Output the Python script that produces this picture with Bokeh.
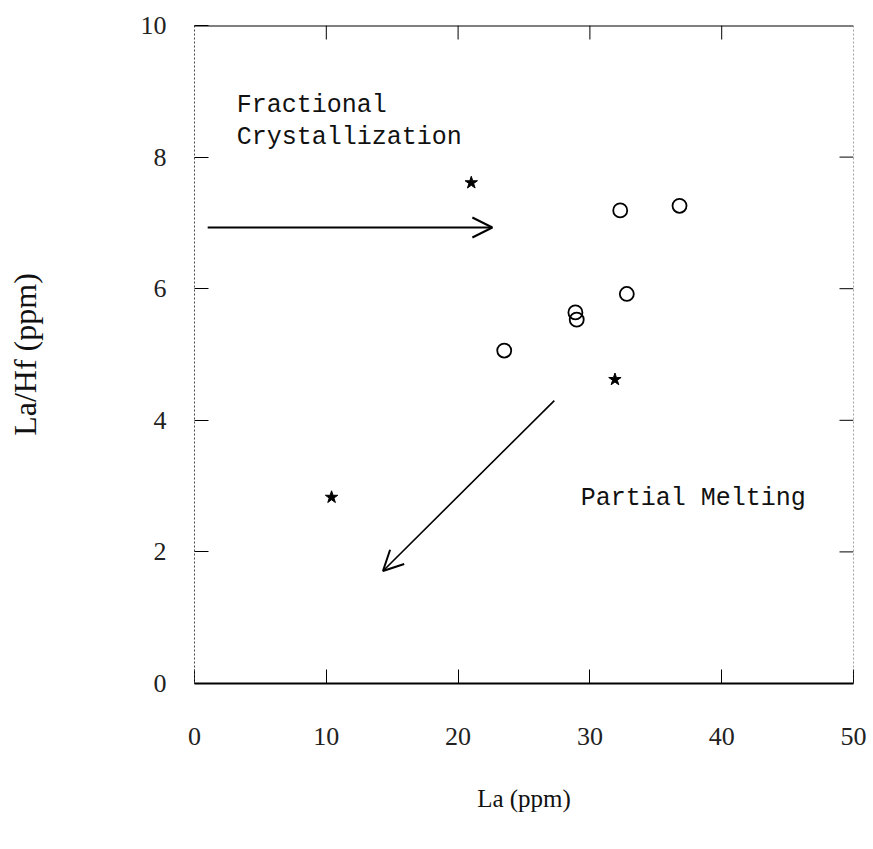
from bokeh.plotting import figure
from bokeh.models import Arrow, OpenHead, LinearAxis, FixedTicker, Range1d, Span
from bokeh.core.properties import value
from bokeh.embed import file_html
from bokeh.resources import INLINE

# ---- data ----
circle_la = [32.3, 36.8, 32.8, 28.9, 29.0, 23.5]
circle_ratio = [7.19, 7.26, 5.92, 5.64, 5.53, 5.06]
star_la = [21.0, 31.9, 10.4]
star_ratio = [7.61, 4.62, 2.83]

x_ticks = [0, 10, 20, 30, 40, 50]
y_ticks = [0, 2, 4, 6, 8, 10]
x_min, x_max = 0, 50
y_min, y_max = 0, 10

fc_arrow_start = (1.0, 6.93)
fc_arrow_end = (22.6, 6.93)
pm_arrow_start = (27.3, 4.30)
pm_arrow_end = (14.3, 1.71)

label_text = ["Fractional", "Crystallization", "Partial Melting"]
label_x = [3.2, 3.2, 29.3]
label_y = [8.78, 8.30, 2.81]

FW, FH = 659, 658
TICK = 14  # px

p = figure(frame_width=FW, frame_height=FH,
           x_range=Range1d(x_min, x_max), y_range=Range1d(y_min, y_max),
           output_backend="svg", toolbar_location=None,
           x_axis_location=None, y_axis_location=None,
           min_border_left=194, min_border_top=25, min_border_right=20,
           min_border_bottom=166)
p.outline_line_color = None
p.xgrid.visible = False
p.ygrid.visible = False
p.background_fill_color = "white"
p.border_fill_color = "white"


def style_axis(ax, solid):
    ax.major_tick_in = TICK
    ax.major_tick_out = 0
    ax.minor_tick_in = 0
    ax.minor_tick_out = 0
    ax.major_tick_line_color = "black"
    ax.major_tick_line_width = 1
    if solid:
        ax.axis_line_color = "black"
        ax.axis_line_width = 2
    else:
        ax.axis_line_color = "#444444"
        ax.axis_line_width = 1
        ax.axis_line_dash = "2 2"
    ax.major_label_text_font = "Liberation Serif"
    ax.major_label_text_font_size = "26px"
    ax.major_label_text_color = "#222222"
    ax.axis_label_text_font = "Liberation Serif"
    ax.axis_label_text_font_style = "normal"
    ax.axis_label_text_color = "#111111"


xb = LinearAxis(ticker=FixedTicker(ticks=x_ticks))
style_axis(xb, True)
xb.major_label_standoff = 44
xb.axis_label = "La (ppm)"
xb.axis_label_text_font_size = "25px"
xb.axis_label_standoff = 37
p.add_layout(xb, "below")

yl = LinearAxis(ticker=FixedTicker(ticks=y_ticks))
style_axis(yl, False)
yl.major_label_standoff = 28
yl.axis_label = "La/Hf (ppm)"
yl.axis_label_text_font_size = "32px"
yl.axis_label_standoff = 95
p.add_layout(yl, "left")

# top and right frame lines
p.add_layout(Span(location=y_max, dimension="width", line_color="black", line_width=2))
p.add_layout(Span(location=x_max, dimension="height", line_color="#444444",
                  line_width=1, line_dash="2 2"))

# inward ticks on top and right
dy = TICK * (y_max - y_min) / FH
dx = TICK * (x_max - x_min) / FW
top_x = x_ticks[1:-1]
p.segment(x0=top_x, y0=[y_max] * len(top_x), x1=top_x, y1=[y_max - dy] * len(top_x),
          line_color="black", line_width=1)
right_y = y_ticks[1:-1]
p.segment(x0=[x_max] * len(right_y), y0=right_y, x1=[x_max - dx] * len(right_y), y1=right_y,
          line_color="black", line_width=1)

# markers
p.scatter(circle_la, circle_ratio, marker="circle", size=14,
          fill_color=None, line_color="black", line_width=1.8)
p.scatter(star_la, star_ratio, marker="star", size=13,
          fill_color="black", line_color="black", line_width=1)

# arrows
p.add_layout(Arrow(end=OpenHead(size=20, line_width=2, line_color="black"),
                   x_start=fc_arrow_start[0], y_start=fc_arrow_start[1],
                   x_end=fc_arrow_end[0], y_end=fc_arrow_end[1],
                   line_width=2, line_color="black"))
p.add_layout(Arrow(end=OpenHead(size=20, line_width=2, line_color="black"),
                   x_start=pm_arrow_start[0], y_start=pm_arrow_start[1],
                   x_end=pm_arrow_end[0], y_end=pm_arrow_end[1],
                   line_width=1.6, line_color="black"))

# annotations
p.text(x=label_x, y=label_y, text=label_text,
       text_font=value("Liberation Mono"), text_font_size="25px",
       text_align="left", text_baseline="middle", text_color="#111111")

open("out.html", "w").write(file_html(p, INLINE))
